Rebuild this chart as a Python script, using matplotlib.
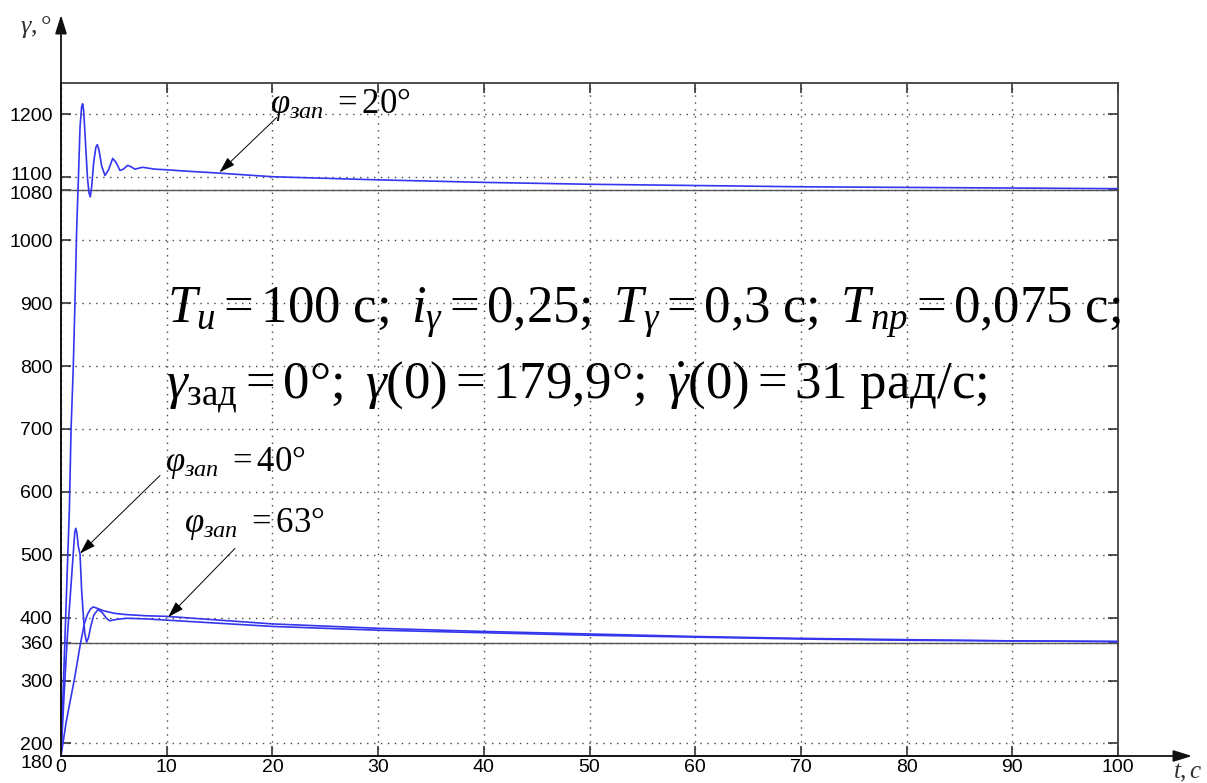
import matplotlib
matplotlib.use("Agg")
import matplotlib.pyplot as plt
import matplotlib.transforms as mtransforms

plt.rcParams["font.family"] = ["Liberation Sans", "DejaVu Sans"]
plt.rcParams["mathtext.fontset"] = "custom"
plt.rcParams["mathtext.rm"] = "Liberation Serif"
plt.rcParams["mathtext.it"] = "Liberation Serif:italic"
plt.rcParams["mathtext.bf"] = "Liberation Serif:bold"

# --- roll angle transients, γ in degrees vs time in seconds ---
t_20 = [0, 0.3, 0.57, 0.79, 0.95, 1.16, 1.32, 1.48, 1.64, 1.8, 1.95, 2.05, 2.15, 2.3,
        2.5, 2.65, 2.77, 2.9, 3.1, 3.3, 3.44, 3.6, 3.85, 4.16, 4.5, 4.89, 5.2, 5.58,
        5.9, 6.3, 6.6, 7.0, 7.7, 8.9, 10, 11.7, 14.7, 20, 30, 40, 50, 60, 70, 80, 90, 100]
g_20 = [180, 330, 464, 571, 698, 798, 900, 1016, 1095, 1180, 1212, 1217, 1205, 1160,
        1100, 1075, 1069, 1085, 1125, 1148, 1152, 1143, 1118, 1103, 1112, 1130, 1124, 1111,
        1113, 1119, 1117, 1113, 1116, 1113, 1112, 1110, 1107, 1101, 1096, 1092, 1089, 1087,
        1085, 1084, 1083, 1082]

t_40 = [0, 0.3, 0.6, 0.9, 1.15, 1.3, 1.39, 1.5, 1.64, 1.8, 1.95, 2.1, 2.25, 2.42, 2.6,
        2.8, 3.1, 3.5, 3.9, 4.3, 4.6, 5.2, 6.2, 8, 10, 20, 30, 40, 50, 60, 70, 80, 90, 100]
g_40 = [180, 280, 370, 440, 500, 535, 542, 535, 513, 501, 444, 407, 375, 361, 368,
        385, 404, 413, 408, 399, 395, 397, 399, 398, 396, 386, 380, 376, 372, 369, 366,
        364, 363, 362]

t_63 = [0, 0.5, 1.3, 1.8, 2.2, 2.5, 2.8, 3.06, 3.4, 4.0, 5, 6, 8, 10, 20, 30, 40, 50,
        60, 70, 80, 90, 100]
g_63 = [180, 235, 305, 355, 390, 405, 414, 417, 415, 411, 407, 405, 403, 402, 390, 383,
        378, 374, 370, 367, 365, 363, 362]

settled = [1080, 360]
y_ticks = [180, 200, 300, 360, 400, 500, 600, 700, 800, 900, 1000, 1080, 1100, 1200]
x_ticks = [0, 10, 20, 30, 40, 50, 60, 70, 80, 90, 100]

W, H = 1207, 783
fig = plt.figure(figsize=(W / 100, H / 100), dpi=100)
L, R, B, T = 61, 1118, 756, 83
ax = fig.add_axes([L / W, (H - B) / H, (R - L) / W, (B - T) / H])

blue = "#3535ee"
for t, g in ((t_20, g_20), (t_40, g_40), (t_63, g_63)):
    ax.plot(t, g, color=blue, lw=1.2, zorder=3)
for s in settled:
    ax.axhline(s, color="#555555", lw=1.0, zorder=2)

ax.set_xlim(0, 100)
ax.set_ylim(180, 1250)
ax.set_xticks(x_ticks)
ax.set_yticks(y_ticks)
ax.set_yticklabels([str(v) for v in y_ticks])
ax.grid(True, color="#444444", lw=1.0, linestyle=(0, (1, 4)))
ax.tick_params(direction="in", length=7, width=1.2, color="#333333",
               top=True, right=True, labelsize=14, pad=6)
ax.tick_params(axis="x", pad=2)
for sp in ax.spines.values():
    sp.set_color("#404040")
    sp.set_linewidth(1.3)

# spread the crowded tick labels a little
nudge = {180: -5, 1080: -3, 1100: 4}
for tick, v in zip(ax.yaxis.get_major_ticks(), y_ticks):
    if v in nudge:
        off = mtransforms.ScaledTranslation(0, nudge[v] / 100, fig.dpi_scale_trans)
        tick.label1.set_transform(tick.label1.get_transform() + off)

# axis arrows
ap = dict(arrowstyle="-|>,head_length=0.8,head_width=0.25", color="#111111", lw=1.3,
          shrinkA=0, shrinkB=0)
fig.add_artist(matplotlib.patches.FancyArrowPatch(
    (L, H - B), (L, H - 15), transform=None, mutation_scale=14, **ap))
fig.add_artist(matplotlib.patches.FancyArrowPatch(
    (L, H - B), (1192, H - B), transform=None, mutation_scale=14, **ap))
fig.text(20 / W, 1 - 27 / H, r"$\gamma,°$", fontsize=19, va="center", color="#333333")
fig.text(1173 / W, 1 - 772 / H, r"$t,c$", fontsize=18, va="center", color="#333333")

# parameter block
ax.text(10.0, 868, r"$T_{и} = 100\ \mathrm{с};\ i_{\gamma} = 0{,}25;\ T_{\gamma} = 0{,}3\ \mathrm{с};\ T_{пр} = 0{,}075\ \mathrm{с};$",
        fontsize=38, va="baseline", ha="left", zorder=5)
ax.text(9.9, 749, r"$\gamma_{\mathrm{зад}} = 0°;\ \gamma(0) = 179{,}9°;\ \dot{\gamma}(0) = 31\ \mathrm{рад/с};$",
        fontsize=38, va="baseline", ha="left", zorder=5)

# curve labels with leader arrows
lab = dict(arrowstyle="-|>,head_length=0.7,head_width=0.22", color="black", lw=0.7,
           shrinkA=0, shrinkB=0)
ax.text(19.8, 1203, r"$\varphi_{зап}\ = 20°$", fontsize=25, va="baseline", zorder=5)
ax.annotate("", xy=(15.0, 1108), xytext=(20.4, 1195),
            arrowprops=dict(mutation_scale=14, **lab))
ax.text(9.85, 633, r"$\varphi_{зап}\ = 40°$", fontsize=25, va="baseline", zorder=5)
ax.annotate("", xy=(1.8, 502), xytext=(9.37, 626),
            arrowprops=dict(mutation_scale=14, **lab))
ax.text(11.6, 536, r"$\varphi_{зап}\ = 63°$", fontsize=25, va="baseline", zorder=5)
ax.annotate("", xy=(10.15, 401), xytext=(16.46, 510),
            arrowprops=dict(mutation_scale=14, **lab))

fig.savefig("out.png", dpi=100)
